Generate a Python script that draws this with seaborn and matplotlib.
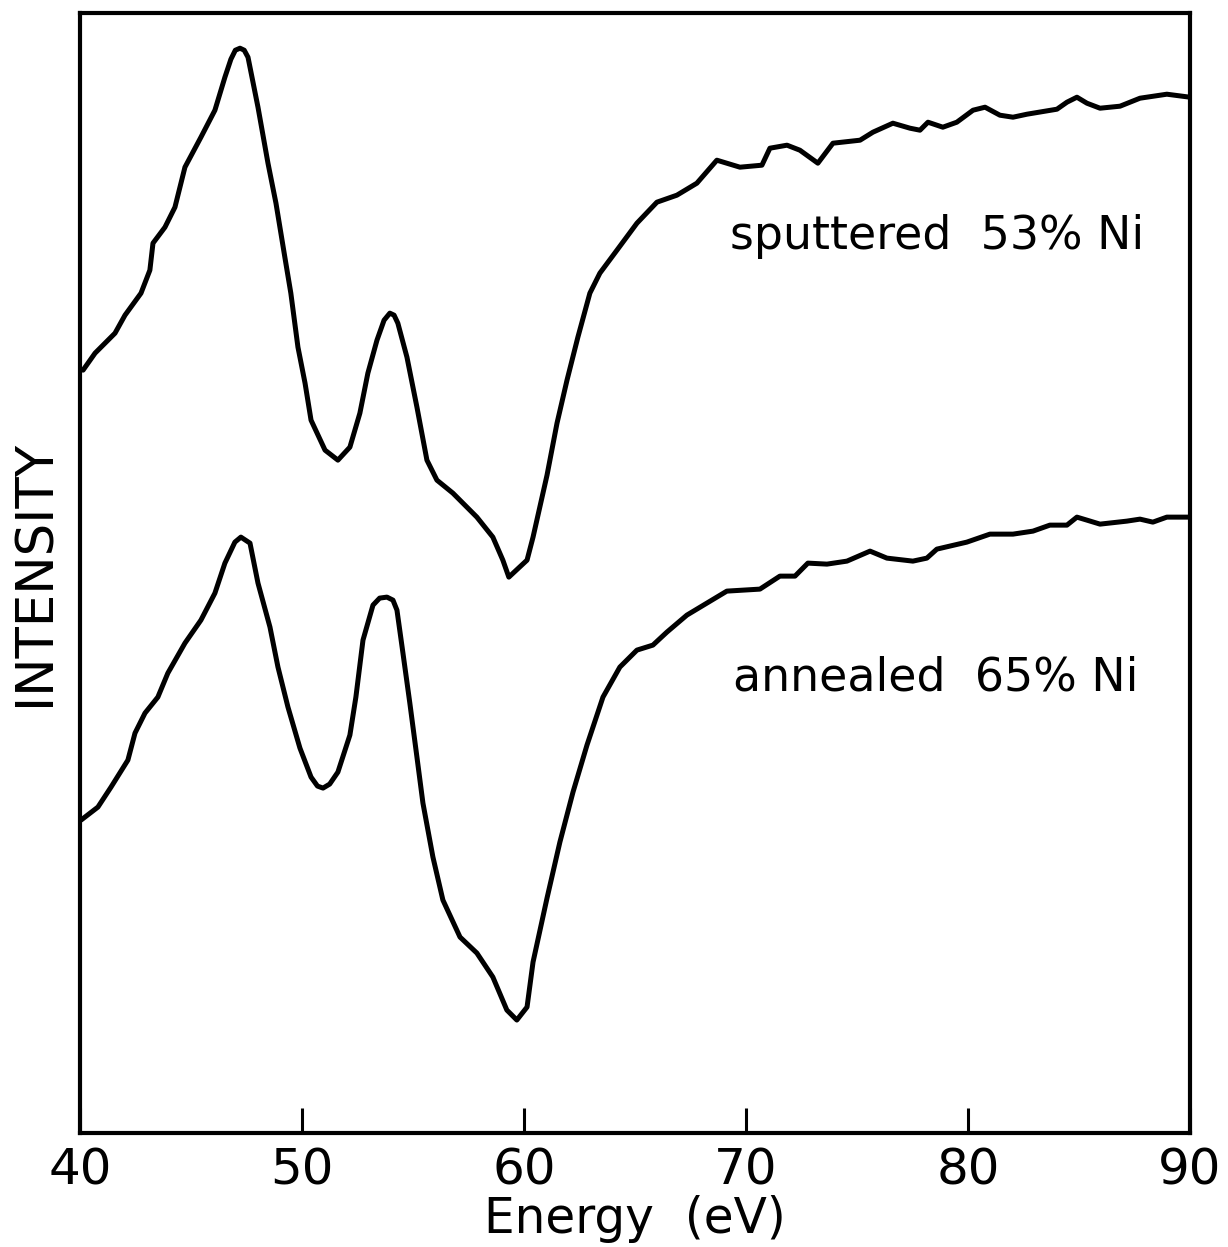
import numpy as np
import pandas as pd
import matplotlib
matplotlib.use("Agg")
import matplotlib.pyplot as plt
import seaborn as sns

# Energy (eV) and intensity (arbitrary units)
sputtered_energy = [40.14, 40.68, 41.58, 42.03, 42.75, 43.15, 43.29, 43.83, 44.28, 44.73,
                    45.45, 46.08, 46.53, 46.80, 47.0, 47.21, 47.40, 47.57, 48.02, 48.47, 48.83, 49.23,
                    49.50, 49.82, 50.14, 50.41, 51.04, 51.62, 52.16, 52.61, 52.97, 53.38,
                    53.70, 53.96, 54.15, 54.32, 54.73, 55.18, 55.63, 56.08, 56.80, 57.88, 58.60, 59.05,
                    59.32, 60.14, 60.41, 61.04, 61.49, 61.94, 62.43, 62.97, 63.42, 64.19,
                    65.09, 65.99, 66.89, 67.79, 68.69, 69.73, 70.72, 71.08, 71.85, 72.43,
                    73.24, 73.92, 75.14, 75.72, 76.62, 77.39, 77.84, 78.20, 78.87, 79.50,
                    80.23, 80.77, 81.44, 82.03, 82.66, 84.01, 84.46, 84.91, 85.36, 85.95,
                    86.85, 87.75, 88.96, 90.0]
sputtered_intensity = [763, 780, 800, 818, 840, 863, 890, 906, 926, 966,
                       996, 1023, 1056, 1074, 1083, 1085, 1083, 1076, 1026, 970, 930, 876,
                       840, 786, 750, 713, 683, 673, 686, 720, 760, 793,
                       813, 820, 818, 810, 776, 726, 673, 653, 640, 616, 596, 573,
                       556, 573, 596, 658, 710, 753, 796, 840, 860, 883,
                       910, 931, 938, 950, 973, 966, 968, 985, 988, 983,
                       970, 990, 993, 1001, 1010, 1005, 1003, 1011, 1006, 1011,
                       1023, 1026, 1018, 1016, 1019, 1024, 1031, 1036, 1030, 1025,
                       1027, 1035, 1039, 1036]

annealed_energy = [40.05, 40.81, 41.40, 42.16, 42.48, 42.93, 43.51, 43.96, 44.73, 45.45,
                   46.08, 46.53, 46.98, 47.25, 47.66, 48.02, 48.56, 48.92, 49.37, 49.91,
                   50.41, 50.70, 50.95, 51.25, 51.62, 52.16, 52.43, 52.75, 53.20, 53.50, 53.83, 54.10, 54.28, 54.55,
                   54.86, 55.18, 55.45, 55.90, 56.35, 57.12, 57.88, 58.60, 59.23, 59.68,
                   60.14, 60.41, 61.04, 61.62, 62.21, 62.84, 63.56, 64.32, 65.09, 65.81,
                   66.44, 67.34, 68.24, 69.14, 70.63, 71.53, 72.21, 72.79, 73.65, 74.55,
                   75.59, 76.35, 77.52, 78.15, 78.60, 79.95, 80.99, 82.03, 82.93, 83.69,
                   84.46, 84.91, 85.36, 85.95, 87.16, 87.75, 88.33, 88.96, 90.0]
annealed_intensity = [313, 326, 346, 373, 400, 420, 436, 460, 490, 513,
                      540, 570, 591, 596, 590, 550, 506, 466, 426, 385,
                      356, 347, 345, 349, 361, 398, 436, 493, 528, 535, 536, 533, 523, 480,
                      430, 376, 330, 276, 233, 196, 180, 156, 123, 113,
                      126, 171, 235, 291, 341, 388, 436, 466, 483, 488,
                      501, 518, 530, 542, 544, 557, 557, 570, 569, 572,
                      582, 575, 572, 575, 584, 591, 599, 599, 602, 608,
                      608, 616, 613, 609, 612, 614, 611, 616, 616]

x_ticks = [40, 50, 60, 70, 80, 90]
labels = ["sputtered  53% Ni", "annealed  65% Ni"]

sns.set_style("ticks")
plt.rcParams['font.family'] = ['DejaVu Sans']

fig = plt.figure(figsize=(12.28, 12.47), dpi=100)
ax = fig.add_axes([0.0651, 0.0914, 0.9039, 0.898])

df_s = pd.DataFrame({"Energy": sputtered_energy, "Intensity": sputtered_intensity})
df_a = pd.DataFrame({"Energy": annealed_energy, "Intensity": annealed_intensity})
kw = dict(color="black", linewidth=3.6, solid_joinstyle="round", solid_capstyle="round",
          sort=False, estimator=None)
sns.lineplot(data=df_s, x="Energy", y="Intensity", ax=ax, **kw)
sns.lineplot(data=df_a, x="Energy", y="Intensity", ax=ax, **kw)

ax.set_xlim(40, 90)
ax.set_ylim(0, 1120)
ax.set_xticks(x_ticks)
ax.set_xticklabels([str(t) for t in x_ticks])
ax.set_yticks([])
ax.tick_params(axis="x", direction="in", length=18, width=2.2, pad=10,
               labelsize=36, color="black", labelcolor="black")
for s in ax.spines.values():
    s.set_linewidth(3.0)
    s.set_color("black")

ax.set_xlabel("Energy  (eV)", fontsize=35, labelpad=0, color="black")
ax.set_ylabel("INTENSITY", fontsize=37, labelpad=14, color="black")

ax.text(69.3, 897, labels[0], fontsize=33, ha="left", va="center", color="black")
ax.text(69.4, 455, labels[1], fontsize=33, ha="left", va="center", color="black")

fig.savefig("out.png", dpi=100, facecolor="white")
